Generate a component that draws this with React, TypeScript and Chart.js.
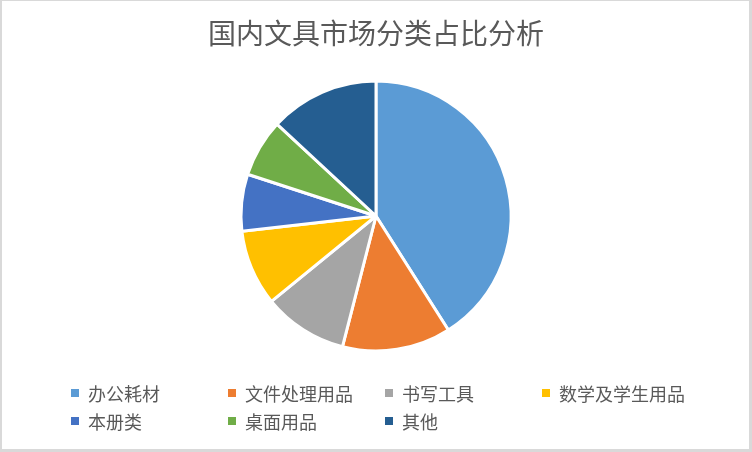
import { useEffect, useRef } from "react";
import { Chart, registerables } from "chart.js";

Chart.register(...registerables);

// 分类与占比（%）
const categories = [
  "办公耗材",
  "文件处理用品",
  "书写工具",
  "数学及学生用品",
  "本册类",
  "桌面用品",
  "其他",
];
const shares = [41.0, 13.0, 10.1, 9.1, 6.8, 6.9, 13.1];
const colors = [
  "#5B9BD5",
  "#ED7D31",
  "#A5A5A5",
  "#FFC000",
  "#4472C4",
  "#70AD47",
  "#255E91",
];
const title = "国内文具市场分类占比分析";

const W = 752;
const H = 452;
const FONT = '"Noto Sans CJK SC", "Noto Sans", sans-serif';
const TEXT_COLOR = "#595959";

// 图例按 4 列两行排布
const LEGEND_COL_X = [71, 228, 385, 542];
const LEGEND_ROW_Y = [393, 420.5];

export default function App() {
  const ref = useRef<HTMLCanvasElement>(null);

  useEffect(() => {
    if (!ref.current) return;
    const chart = new Chart(ref.current, {
      type: "pie",
      data: {
        labels: categories,
        datasets: [
          {
            data: shares,
            backgroundColor: colors,
            borderColor: "#ffffff",
            borderWidth: 3,
          },
        ],
      },
      options: {
        responsive: false,
        maintainAspectRatio: false,
        animation: false,
        radius: 135,
        layout: { padding: { top: 0, bottom: 80.6, left: 0, right: 0 } },
        plugins: {
          legend: { display: false },
          tooltip: { enabled: false },
          title: {
            display: true,
            text: title,
            color: TEXT_COLOR,
            font: { family: FONT, size: 28, weight: "normal", lineHeight: 1.2 },
            padding: { top: 17, bottom: 10 },
          },
        },
      },
    });
    return () => chart.destroy();
  }, []);

  return (
    <div
      style={{
        position: "absolute",
        left: 0,
        top: 0,
        width: W,
        height: H,
        background: "#ffffff",
        fontFamily: FONT,
      }}
    >
      <canvas
        ref={ref}
        width={W}
        height={H}
        style={{ position: "absolute", left: 0, top: 0, display: "block" }}
      />
      {categories.map((c, i) => (
        <div
          key={c}
          style={{
            position: "absolute",
            left: LEGEND_COL_X[i % 4],
            top: LEGEND_ROW_Y[Math.floor(i / 4)] - 12,
            height: 24,
            display: "flex",
            alignItems: "center",
            fontSize: 18,
            lineHeight: "24px",
            color: TEXT_COLOR,
            whiteSpace: "nowrap",
          }}
        >
          <span
            style={{
              width: 8,
              height: 8,
              background: colors[i],
              marginRight: 9,
              flexShrink: 0,
            }}
          />
          <span>{c}</span>
        </div>
      ))}
      <div
        style={{
          position: "absolute",
          left: 0,
          top: 0,
          width: W,
          height: H,
          boxSizing: "border-box",
          borderStyle: "solid",
          borderColor: "#d9d9d9",
          borderWidth: "1px 3px 3px 2px",
          pointerEvents: "none",
        }}
      />
    </div>
  );
}
